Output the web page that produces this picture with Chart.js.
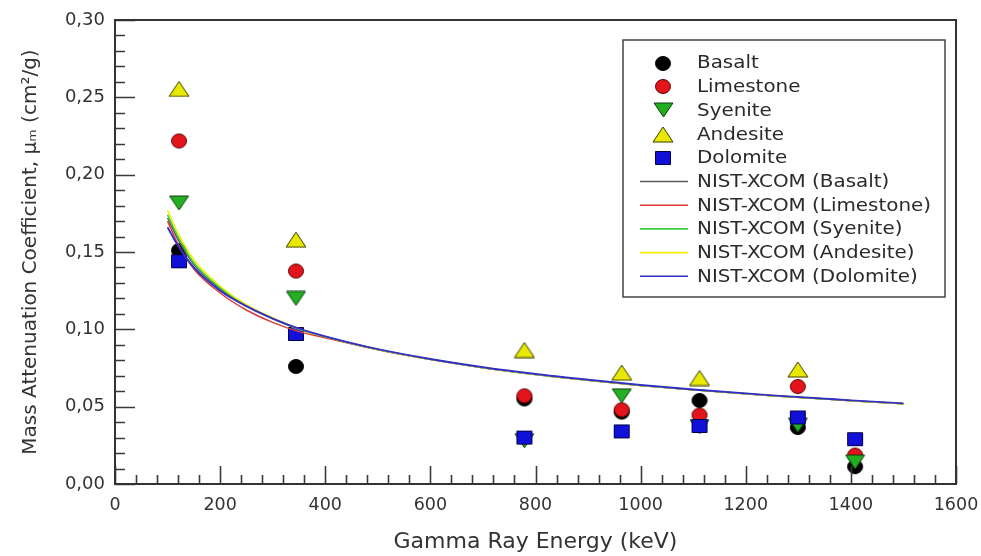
<!DOCTYPE html>
<html>
<head>
<meta charset="utf-8">
<script src="https://cdn.jsdelivr.net/npm/chart.js@4.4.0/dist/chart.umd.min.js"></script>
<style>
html,body{margin:0;padding:0;background:#fff;}
#wrap{width:981px;height:556px;position:relative;}
</style>
</head>
<body>
<div id="wrap"><canvas id="c"></canvas></div>
<script>
// ---- Data ----
const energies   = [121.78, 344.28, 778.90, 964.08, 1112.08, 1299.14, 1408.01];
const basalt     = [0.151, 0.076, 0.055, 0.0465, 0.054, 0.0365, 0.0112];
const limestone  = [0.2218, 0.1377, 0.057, 0.048, 0.0446, 0.063, 0.0187];
const syenite    = [0.1817, 0.120, 0.028, 0.057, 0.037, 0.038, 0.0142];
const andesite   = [0.2554, 0.158, 0.0866, 0.072, 0.0685, 0.074, null];
const dolomite   = [0.144, 0.097, 0.030, 0.034, 0.0375, 0.043, 0.029];

const xcomEnergies = [100, 120, 150, 200, 250, 300, 350, 400, 500, 600, 700, 800, 900, 1000, 1100, 1250, 1400, 1500];
const xcomBasalt    = [0.172, 0.158, 0.142, 0.126, 0.115, 0.107, 0.1000, 0.0952, 0.0870, 0.0806, 0.0752, 0.0708, 0.0671, 0.0637, 0.0609, 0.0571, 0.0539, 0.0519];
const xcomLimestone = [0.170, 0.155, 0.139, 0.1235, 0.1125, 0.1045, 0.0985, 0.0945, 0.0868, 0.0805, 0.0752, 0.0708, 0.0671, 0.0637, 0.0609, 0.0571, 0.0539, 0.0519];
const xcomSyenite   = [0.174, 0.160, 0.143, 0.127, 0.1155, 0.107, 0.1000, 0.0952, 0.0870, 0.0806, 0.0752, 0.0708, 0.0671, 0.0637, 0.0609, 0.0571, 0.0539, 0.0519];
const xcomAndesite  = [0.177, 0.162, 0.145, 0.128, 0.116, 0.1075, 0.1002, 0.0953, 0.0870, 0.0806, 0.0752, 0.0708, 0.0671, 0.0637, 0.0609, 0.0571, 0.0539, 0.0519];
const xcomDolomite  = [0.166, 0.154, 0.140, 0.125, 0.115, 0.107, 0.1005, 0.0955, 0.0872, 0.0808, 0.0755, 0.0711, 0.0674, 0.0640, 0.0611, 0.0573, 0.0541, 0.0521];

const seriesNames = ['Basalt', 'Limestone', 'Syenite', 'Andesite', 'Dolomite'];
const xTickLabels = ['0','200','400','600','800','1000','1200','1400','1600'];
const yTickLabels = ['0,00','0,05','0,10','0,15','0,20','0,25','0,30'];

// ---- Marker images ----
function marker(kind, fill, stroke, w, h) {
  const c = document.createElement('canvas');
  c.width = w + 2; c.height = h + 2;
  const g = c.getContext('2d');
  g.fillStyle = fill; g.strokeStyle = stroke; g.lineWidth = 1;
  g.beginPath();
  if (kind === 'circle') g.ellipse(c.width/2, c.height/2, w/2 - 0.5, h/2 - 0.5, 0, 0, Math.PI*2);
  else if (kind === 'up') { g.moveTo(c.width/2, 1); g.lineTo(w + 1, h + 1); g.lineTo(1, h + 1); g.closePath(); }
  else if (kind === 'down') { g.moveTo(1, 1); g.lineTo(w + 1, 1); g.lineTo(c.width/2, h + 1); g.closePath(); }
  else g.rect(1.5, 1.5, w - 1, h - 1);
  g.fill(); g.stroke();
  return c;
}
const markers = [
  marker('circle', '#000000', '#000000', 16, 15),
  marker('circle', '#e3141b', '#5a0000', 16, 15),
  marker('down',   '#22b022', '#0d3d0d', 19, 14),
  marker('up',     '#e8e800', '#3a3a00', 20, 15),
  marker('rect',   '#1010d8', '#00004a', 16, 14)
];
const lineColors = ['#5a5a5a', '#e03a3a', '#3ad03a', '#f0f000', '#3030c8'];
const lineWidths = [1.5, 1.5, 1.5, 1.5, 1.9];

function pts(xs, ys) {
  return xs.map((x, i) => ({x: x, y: ys[i]})).filter(p => p.y !== null);
}
const pointSeries = [basalt, limestone, syenite, andesite, dolomite];
const xcomSeries = [xcomBasalt, xcomLimestone, xcomSyenite, xcomAndesite, xcomDolomite];

const datasets = [];
pointSeries.forEach((s, i) => {
  datasets.push({
    label: seriesNames[i],
    data: pts(energies, s),
    pointStyle: markers[i],
    pointRadius: 8,
    showLine: false,
    order: 20 - i
  });
});
xcomSeries.forEach((s, i) => {
  datasets.push({
    label: 'NIST-XCOM (' + seriesNames[i] + ')',
    data: pts(xcomEnergies, s),
    showLine: true,
    borderColor: lineColors[i],
    borderWidth: lineWidths[i],
    pointRadius: 0,
    cubicInterpolationMode: 'monotone',
    order: 10 - i
  });
});

const FONT = 'DejaVu Sans';

const framePlugin = {
  id: 'frameTicks',
  afterDatasetsDraw(chart) {
    const {ctx, chartArea: a} = chart;
    const xs = chart.scales.x, ys = chart.scales.y;
    ctx.save();
    ctx.strokeStyle = '#3a3a3a';
    ctx.lineWidth = 1.6;
    ctx.beginPath();
    xs.ticks.forEach(t => {
      const px = Math.round(xs.getPixelForValue(t.value)) + 0.5;
      const major = Math.round(t.value) % 200 === 0;
      const len = major ? 18 : 9;
      ctx.moveTo(px, a.bottom); ctx.lineTo(px, a.bottom - len);
    });
    ys.ticks.forEach(t => {
      const py = Math.round(ys.getPixelForValue(t.value)) + 0.5;
      const major = Math.round(t.value * 100) % 5 === 0;
      const len = major ? 20 : 10;
      ctx.moveTo(a.left, py); ctx.lineTo(a.left + len, py);
    });
    ctx.stroke();
    ctx.lineWidth = 2;
    ctx.strokeStyle = '#333';
    ctx.strokeRect(a.left, a.top, a.right - a.left, a.bottom - a.top);
    ctx.restore();
  }
};

const legendPlugin = {
  id: 'boxLegend',
  afterDraw(chart) {
    const {ctx, chartArea: a} = chart;
    const bx = a.right - 333, by = a.top + 20, bw = 322, bh = 257;
    ctx.save();
    ctx.fillStyle = '#ffffff';
    ctx.fillRect(bx, by, bw, bh);
    ctx.strokeStyle = '#444';
    ctx.lineWidth = 1.5;
    ctx.strokeRect(bx, by, bw, bh);
    ctx.font = '17px "' + FONT + '"';
    ctx.fillStyle = '#2a2a2a';
    ctx.textBaseline = 'middle';
    const rowH = 23.7;
    const y0 = by + 23;
    const symX = bx + 40, txtX = bx + 74;
    chart.data.datasets.forEach((ds, i) => {
      const y = y0 + i * rowH;
      if (i < 5) {
        const m = markers[i];
        ctx.drawImage(m, Math.round(symX - m.width/2), Math.round(y - m.height/2));
      } else {
        ctx.strokeStyle = ds.borderColor;
        ctx.lineWidth = 1.6;
        ctx.beginPath();
        ctx.moveTo(bx + 17, y); ctx.lineTo(bx + 65, y);
        ctx.stroke();
      }
      ctx.save();
      ctx.translate(txtX, y + 1);
      ctx.scale(1.17, 1);
      ctx.fillText(ds.label, 0, 0);
      ctx.restore();
    });
    ctx.restore();
  }
};

new Chart(document.getElementById('c'), {
  type: 'scatter',
  data: { datasets: datasets },
  plugins: [framePlugin, legendPlugin],
  options: {
    responsive: true,
    maintainAspectRatio: false,
    animation: false,
    devicePixelRatio: 1,
    layout: { padding: { top: 20, right: 25, left: 0, bottom: 0 } },
    plugins: { legend: { display: false }, tooltip: { enabled: false } },
    scales: {
      x: {
        type: 'linear',
        min: 0, max: 1600,
        afterFit: s => { s.height = 72; s.paddingLeft = 0; s.paddingRight = 0; },
        border: { display: false },
        grid: { display: true, drawOnChartArea: false, drawTicks: false, color: 'rgba(0,0,0,0)' },
        ticks: {
          stepSize: 40,
          autoSkip: false,
          maxRotation: 0,
          padding: 11,
          color: '#333',
          font: { family: FONT, size: 17.5 },
          callback: v => (Math.round(v) % 200 === 0 ? xTickLabels[Math.round(v) / 200] : '')
        },
        title: {
          display: true,
          text: 'Gamma Ray Energy (keV)',
          color: '#333',
          font: { family: FONT, size: 22 },
          padding: { top: 0, bottom: 1 }
        }
      },
      y: {
        type: 'linear',
        min: 0, max: 0.30,
        afterFit: s => { s.width = 115; s.paddingTop = 0; s.paddingBottom = 0; },
        border: { display: false },
        grid: { display: true, drawOnChartArea: false, drawTicks: false, color: 'rgba(0,0,0,0)' },
        ticks: {
          stepSize: 0.01,
          autoSkip: false,
          padding: 10,
          color: '#333',
          font: { family: FONT, size: 18 },
          callback: v => {
            const k = Math.round(v * 100);
            return k % 5 === 0 ? yTickLabels[k / 5] : '';
          }
        },
        title: {
          display: true,
          text: 'Mass Attenuation Coefficient, \u03bc\u2098 (cm\u00b2/g)',
          color: '#333',
          font: { family: FONT, size: 20 },
          padding: { top: 19, bottom: 0 }
        }
      }
    }
  }
});
</script>
</body>
</html>
